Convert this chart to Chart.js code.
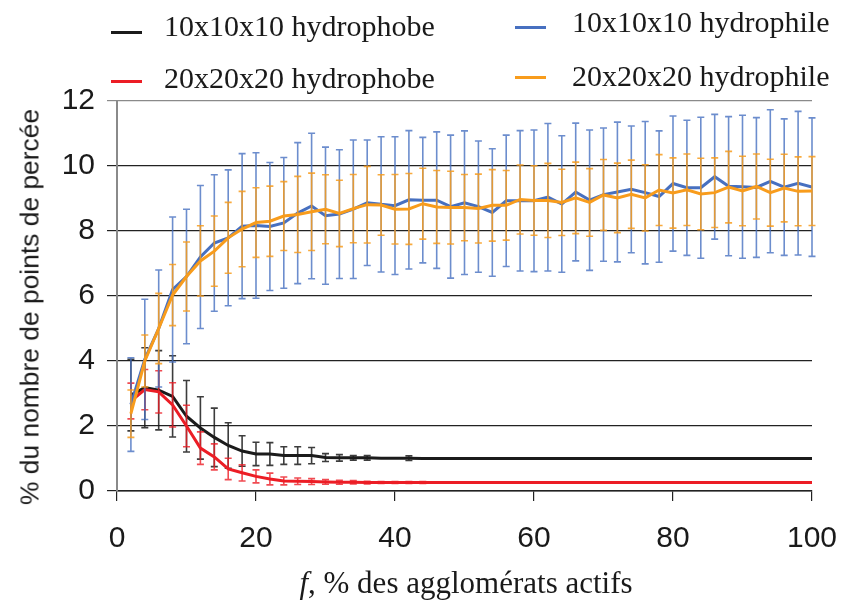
<!DOCTYPE html>
<html>
<head>
<meta charset="utf-8">
<script src="https://cdn.jsdelivr.net/npm/chart.js@4.4.1/dist/chart.umd.min.js"></script>
<style>
  html,body{margin:0;padding:0;background:#fff;}
  #wrap{position:relative;width:842px;height:602px;overflow:hidden;}
  canvas{position:absolute;left:0;top:0;}
  .leg{position:absolute;font-family:"Liberation Serif","Times New Roman",serif;font-size:30px;color:#1a1a1a;white-space:nowrap;line-height:1;}
  .dash{position:absolute;width:31px;height:3.5px;}
  #xt{position:absolute;left:0;width:932px;top:567px;line-height:1;text-align:center;font-family:"Liberation Serif","Times New Roman",serif;font-size:31px;color:#1a1a1a;white-space:nowrap;}
  #yt{position:absolute;left:30px;top:307px;transform:translate(-50%,-50%) rotate(-90deg);font-family:"Liberation Sans",Arial,sans-serif;font-size:26.4px;color:#1a1a1a;white-space:nowrap;}
</style>
</head>
<body>
<div id="wrap">
  <canvas id="c" width="842" height="602"></canvas>
  <div id="legend"></div>
  <div id="xt"><i>f</i>, % des agglomérats actifs</div>
  <div id="yt">% du nombre de points de percée</div>
</div>
<script>
const xs = [2,4,6,8,10,12,14,16,18,20,22,24,26,28,30,32,34,36,38,40,42,44,46,48,50,52,54,56,58,60,62,64,66,68,70,72,74,76,78,80,82,84,86,88,90,92,94,96,98,100];

const seriesNames = ["10x10x10 hydrophobe","20x20x20 hydrophobe","10x10x10 hydrophile","20x20x20 hydrophile"];

const hydrophobe10 = [2.95,3.18,3.1,2.91,2.3,1.94,1.65,1.4,1.23,1.14,1.14,1.09,1.09,1.09,1.03,1.02,1.02,1.02,1.01,1.01,1.01,1.0,1.0,1.0,1.0,1.0,1.0,1.0,1.0,1.0,1.0,1.0,1.0,1.0,1.0,1.0,1.0,1.0,1.0,1.0,1.0,1.0,1.0,1.0,1.0,1.0,1.0,1.0,1.0,1.0];
const hydrophobe10Err = [1.1,1.23,1.22,1.25,1.1,0.96,0.9,0.7,0.47,0.36,0.35,0.27,0.27,0.25,0.12,0.1,0.07,0.07,0,0,0.07,0,0,0,0,0,0,0,0,0,0,0,0,0,0,0,0,0,0,0,0,0,0,0,0,0,0,0,0,0];

const hydrophobe20 = [2.77,3.12,3.05,2.65,2.0,1.32,1.05,0.68,0.56,0.45,0.37,0.31,0.3,0.29,0.28,0.27,0.27,0.26,0.26,0.26,0.26,0.26,0.26,0.26,0.26,0.26,0.26,0.26,0.26,0.26,0.26,0.26,0.26,0.26,0.26,0.26,0.26,0.26,0.26,0.26,0.26,0.26,0.26,0.26,0.26,0.26,0.26,0.26,0.26,0.26];
const hydrophobe20Err = [0.55,0.62,0.65,0.68,0.64,0.5,0.4,0.33,0.25,0.2,0.18,0.12,0.1,0.09,0.07,0.06,0.05,0.04,0.03,0.03,0.03,0.03,0,0,0,0,0,0,0,0,0,0,0,0,0,0,0,0,0,0,0,0,0,0,0,0,0,0,0,0];

const hydrophile10 = [2.66,4.05,5.0,6.2,6.6,7.2,7.63,7.79,8.15,8.17,8.14,8.25,8.55,8.77,8.47,8.52,8.67,8.87,8.82,8.78,8.96,8.95,8.95,8.75,8.87,8.75,8.57,8.93,8.93,8.93,9.04,8.83,9.2,8.95,9.12,9.2,9.28,9.18,9.06,9.46,9.33,9.33,9.67,9.38,9.36,9.34,9.53,9.35,9.47,9.35];
const hydrophile10Err = [1.44,1.85,1.8,2.23,2.07,2.2,2.1,2.09,2.23,2.24,1.97,2.01,2.17,2.24,2.11,1.98,2.13,1.93,2.08,2.12,2.13,1.93,2.1,2.2,2.21,2.02,1.96,2.02,2.16,2.18,2.27,2.1,2.12,2.16,2.05,2.15,1.95,2.19,2.02,2.08,2.08,2.17,1.92,2.14,2.2,2.15,2.2,2.1,2.21,2.13];

const hydrophile20 = [2.38,4.0,5.0,6.03,6.6,7.08,7.38,7.79,8.06,8.26,8.3,8.46,8.51,8.59,8.67,8.54,8.69,8.81,8.8,8.67,8.68,8.84,8.74,8.72,8.72,8.69,8.79,8.79,8.97,8.94,8.94,8.88,9.02,8.88,9.11,9.02,9.13,9.02,9.26,9.17,9.27,9.14,9.18,9.35,9.23,9.37,9.18,9.32,9.22,9.23];
const hydrophile20Err = [0.73,0.8,1.08,0.94,1.06,1.08,1.08,1.09,1.16,1.07,1.08,1.06,1.17,1.19,1.06,1.02,1.05,1.18,0.93,1.07,1.09,1.09,1.12,1.12,1.02,1.06,1.1,1.07,1.06,1.07,1.14,1.02,1.1,1.04,1.09,1.07,1.05,1.02,1.09,1.08,1.1,1.1,1.07,1.1,1.07,1.0,1.03,1.04,1.06,1.06];

const xTicks = [0,20,40,60,80,100];
const yTicks = [0,2,4,6,8,10,12];

const colors = ["#1b1b1b","#ec1d25","#4770c0","#f89c1c"];
const barColors = ["rgba(27,27,27,0.85)","rgba(236,29,37,0.8)","rgba(71,112,192,0.8)","rgba(248,156,28,0.85)"];

function pts(arr){ return arr.map((v,i)=>({x:xs[i], y:v})); }

const allVals = [hydrophobe10, hydrophobe20, hydrophile10, hydrophile20];
const allErrs = [hydrophobe10Err, hydrophobe20Err, hydrophile10Err, hydrophile20Err];
const drawOrder = [3,2,1,0];

const errorBars = {
  id:'errorBars',
  beforeDatasetDraw(chart, args){
    const i = args.index;
    const ds = chart.data.datasets[i];
    const errs = ds.errors;
    if(!errs) return;
    const xS = chart.scales.x, yS = chart.scales.y;
    const ctx = chart.ctx;
    ctx.save();
    ctx.strokeStyle = ds.barColor;
    ctx.lineWidth = 1.6;
    ds.data.forEach((p,k)=>{
      const e = errs[k];
      if(!e) return;
      const px = xS.getPixelForValue(p.x);
      const t = yS.getPixelForValue(p.y + e);
      const b = yS.getPixelForValue(p.y - e);
      ctx.beginPath();
      ctx.moveTo(px,t); ctx.lineTo(px,b);
      ctx.moveTo(px-3.5,t); ctx.lineTo(px+3.5,t);
      ctx.moveTo(px-3.5,b); ctx.lineTo(px+3.5,b);
      ctx.stroke();
    });
    ctx.restore();
  }
};

const datasets = seriesNames.map((n,i)=>({
  label:n,
  data:pts(allVals[i]),
  errors:allErrs[i],
  borderColor:colors[i],
  barColor:barColors[i],
  backgroundColor:colors[i],
  borderWidth:3,
  pointRadius:0,
  tension:0,
  order:drawOrder[i]
}));

// HTML legend built from series names/colors
const legPos = [
  {dx:111, dy:30.5, tx:164, ty:10.5},
  {dx:111, dy:79.5, tx:164, ty:63},
  {dx:515, dy:25.5, tx:572, ty:7},
  {dx:515, dy:75.5, tx:572, ty:61}
];
const legend = document.getElementById('legend');
seriesNames.forEach((n,i)=>{
  const d = document.createElement('div');
  d.className='dash';
  d.style.left=legPos[i].dx+'px'; d.style.top=legPos[i].dy+'px';
  d.style.background=colors[i];
  legend.appendChild(d);
  const t = document.createElement('div');
  t.className='leg';
  t.style.left=legPos[i].tx+'px'; t.style.top=legPos[i].ty+'px';
  t.textContent=n;
  legend.appendChild(t);
});

new Chart(document.getElementById('c'),{
  type:'line',
  data:{datasets},
  plugins:[errorBars],
  options:{
    responsive:false,
    animation:false,
    devicePixelRatio:1,
    layout:{padding:{top:101,right:30,left:0,bottom:0}},
    plugins:{legend:{display:false},tooltip:{enabled:false}},
    scales:{
      x:{
        type:'linear',min:0,max:100,
        afterBuildTicks(s){ s.ticks = xTicks.map(v=>({value:v})); },
        afterFit(s){ s.height = 111; s.paddingLeft = 0; s.paddingRight = 0; },
        grid:{drawOnChartArea:false,drawTicks:true,tickLength:10,color:'#222',lineWidth:1.2},
        border:{color:'#222',width:1.5},
        ticks:{font:{family:'"Liberation Sans", Arial, sans-serif',size:30},color:'#1a1a1a',padding:20,maxRotation:0}
      },
      y:{
        min:0,max:12,
        afterBuildTicks(s){ s.ticks = yTicks.map(v=>({value:v})); },
        afterFit(s){ s.width = 117; s.paddingTop = 0; s.paddingBottom = 0; },
        grid:{tickLength:10,color:(c)=> (c.tick && c.tick.value===12) ? '#8a8a8a' : '#222',lineWidth:1.2},
        border:{color:'#8a8a8a',width:2},
        ticks:{font:{family:'"Liberation Sans", Arial, sans-serif',size:30},color:'#1a1a1a',padding:12}
      }
    }
  }
});
</script>
</body>
</html>
